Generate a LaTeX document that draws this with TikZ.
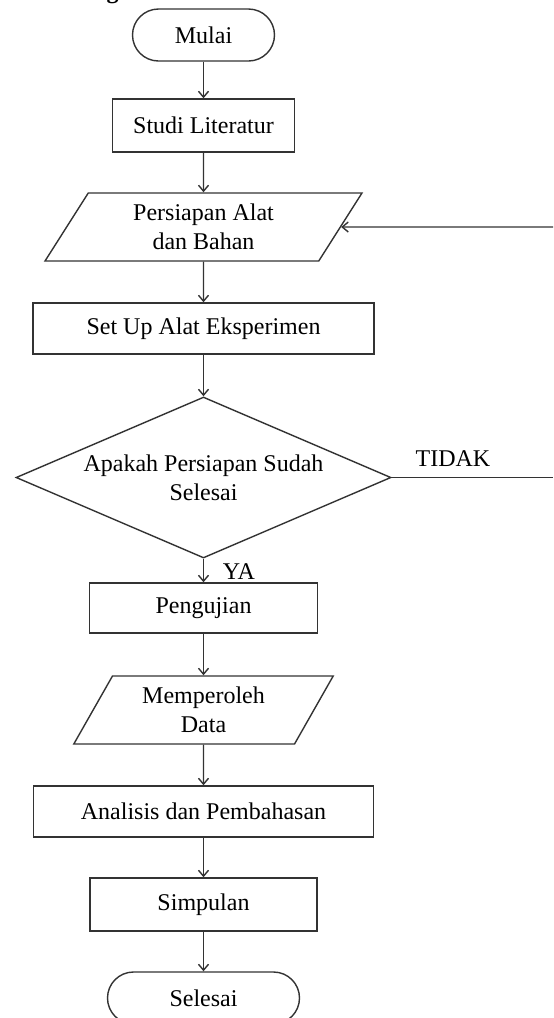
\documentclass[tikz,border=0pt]{standalone}
\usepackage{fontspec}
\setmainfont{Liberation Serif}
\usetikzlibrary{shapes.geometric,arrows.meta}
\begin{document}
\begin{tikzpicture}[x=0.5pt, y=-0.5pt, line width=0.7pt,
    every node/.style={font=\fontsize{12}{14.5}\selectfont, align=center},
    terminal/.style={rectangle, rounded corners=13pt, draw=black!80, minimum width=#1, minimum height=26pt},
    proses/.style={rectangle, draw=black!80, minimum width=#1, minimum height=25.5pt},
    io/.style={trapezium, trapezium left angle=64, trapezium right angle=116, trapezium stretches, draw=black!80, minimum width=#1, minimum height=34pt},
    keputusan/.style={diamond, aspect=2.33, inner sep=0pt, draw=black!80, minimum width=187.5pt, minimum height=80.5pt},
    panah/.style={draw=black!80, -{Straight Barb[length=3pt,width=5pt]}}]
      \useasboundingbox (0,0) rectangle (553,1018);
      \node[font=\bfseries\fontsize{12}{14}\selectfont, anchor=base] (judul) at (112.5,-2) {g};
      \node[terminal=71pt] (mulai) at (203.5,35) {Mulai};
      \node[proses=91pt, minimum height=26.5pt] (studi) at (203.5,125.5) {Studi Literatur};
      \node[io=158.5pt] (alat) at (203.5,227) {Persiapan Alat\\dan Bahan};
      \node[proses=170.5pt] (setup) at (203.5,328.5) {Set Up Alat Eksperimen};
      \node[keputusan] (cek) at (203.5,477.5) {Apakah Persiapan Sudah\\Selesai};
      \node[proses=114pt, minimum height=25pt] (uji) at (203.5,608) {Pengujian};
      \node[io=130pt] (data) at (203.5,710) {Memperoleh\\Data};
      \node[proses=170pt] (analisis) at (203.5,811.5) {Analisis dan Pembahasan};
      \node[proses=113.5pt, minimum height=26.5pt] (simpulan) at (203.5,904.5) {Simpulan};
      \node[terminal=96pt] (selesai) at (203.5,998) {Selesai};
      \coordinate (tepiA) at (553,477.5);
      \coordinate (tepiB) at (553,227);
      \foreach \source/\dest in {mulai/studi, studi/alat, alat/setup, setup/cek, uji/data, data/analisis, analisis/simpulan, simpulan/selesai}
        \draw[panah] (\source) -- (\dest);
      \draw[panah] (cek) -- node[right=6pt, pos=0.55] {YA} (uji);
      \draw[draw=black!80] (cek.east) -- node[above=2pt, pos=0.38] {TIDAK} (tepiA);
      \draw[panah] (tepiB) -- (alat.east);
    \end{tikzpicture}
\end{document}
